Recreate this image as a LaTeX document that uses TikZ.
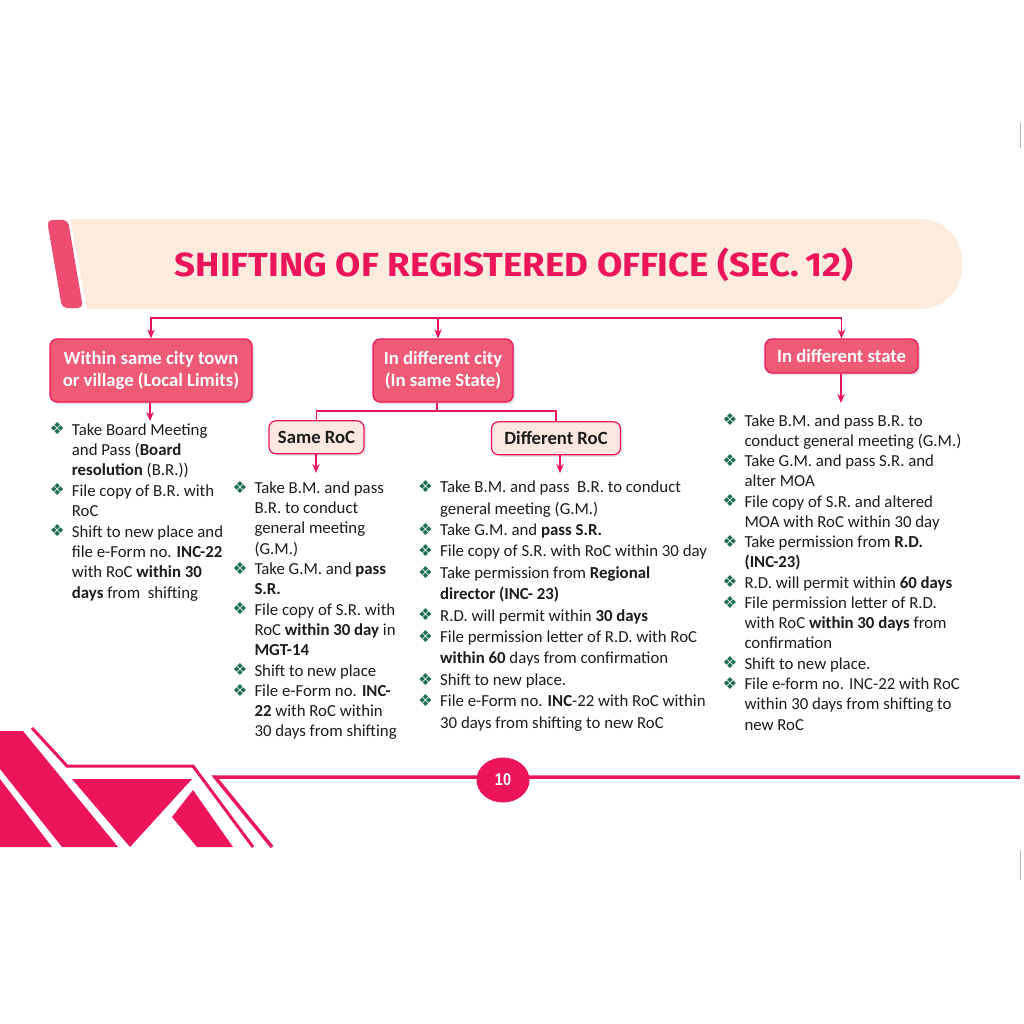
\documentclass[tikz,border=0pt]{standalone}
\usepackage{fontspec}
\usepackage{graphicx}
\setmainfont{Carlito}
\newfontfamily\bulfont{DejaVu Sans}
\newfontfamily\titlefont{Fira Sans}
\newfontfamily\numfont{Liberation Sans}
\usetikzlibrary{arrows.meta,shadows,shapes.geometric}
\definecolor{crim}{HTML}{EC1559}
\definecolor{boxpink}{HTML}{EF5A76}
\definecolor{barpink}{HTML}{EE4C70}
\definecolor{peach}{HTML}{FDEBDE}
\definecolor{lightbox}{HTML}{FCE8E1}
\definecolor{bul}{HTML}{1F6E52}
\definecolor{txt}{HTML}{1C1C1C}
\newcommand{\bl}{\makebox[21pt][l]{\hspace*{-1pt}\raisebox{0.3pt}{\bulfont\fontsize{16.5}{10}\selectfont\color{bul}❖}}}
\tikzset{
  bigbox/.style={draw=crim, line width=1.2pt, fill=boxpink, rounded corners=7pt, text=white,
    font=\bfseries\fontsize{18.7}{22}\selectfont, align=center, inner sep=0pt,
    drop shadow={opacity=0.25, shadow xshift=2pt, shadow yshift=-2pt}},
  subbox/.style={draw=crim, line width=1.2pt, fill=lightbox, rounded corners=7pt, text=txt,
    font=\bfseries\fontsize{18.7}{22}\selectfont, align=center, inner sep=0pt,
    drop shadow={opacity=0.2, shadow xshift=2pt, shadow yshift=-2pt}},
  conn/.style={draw=crim, line width=1.4pt},
  arr/.style={conn, -{Stealth[length=9pt,width=7.5pt]}},
  lst/.style={anchor=base west, inner sep=0pt, text=txt},
}
\begin{document}
\begin{tikzpicture}[x=1pt,y=-1pt]
\useasboundingbox (0,0) rectangle (1024,1024);
\fill[white] (0,0) rectangle (1024,1024);
% banner
\fill[peach] (70,219) [rounded corners=42pt] -- (962,219) -- (962,309) [sharp corners] -- (87,309) -- cycle;
\fill[barpink, rounded corners=5pt] (47,220) -- (68,220) -- (83,308) -- (62,308) -- cycle;
\node (title) [anchor=base, text=crim, inner sep=0pt] at (514,276.7)
  {\resizebox{678pt}{28.7pt}{\titlefont\bfseries SHIFTING OF REGISTERED OFFICE (SEC.\,12)}};
% level 1 boxes
\node (b1) [bigbox, minimum width=202pt, minimum height=63pt] at (151,370.5) {Within same city town\\or village (Local Limits)};
\node (b2) [bigbox, minimum width=140pt, minimum height=63pt] at (443,370.5) {In different city\\(In same State)};
\node (b3) [bigbox, minimum width=153pt, minimum height=34pt] at (841.5,356) {In different state};
% level 2 boxes
\node (sr) [subbox, minimum width=95pt, minimum height=33pt] at (316.5,437.3) {Same RoC};
\node (dr) [subbox, minimum width=129pt, minimum height=33pt] at (556,438.3) {Different RoC};
% connectors
\coordinate (j) at (438,318);
\draw[arr] (j) -| (b1.north);
\draw[arr] (j) -| (b3.north);
\draw[arr] (j) -- (j |- b2.north);
\coordinate (j2) at (437,411);
\draw[conn] (j2 |- b2.south) -- (j2);
\draw[conn] (j2) -| (sr.north);
\draw[conn] (j2) -| (dr.north);
\coordinate (e1) at (150,421);
\coordinate (e2) at (316,473);
\coordinate (e3) at (560,473);
\coordinate (e4) at (841,403);
\draw[arr] (b1.south -| e1) -- (e1);
\draw[arr] (sr.south -| e2) -- (e2);
\draw[arr] (dr.south -| e3) -- (e3);
\draw[arr] (b3.south -| e4) -- (e4);
% lists
\node (l1) [lst, font=\fontsize{16.8}{20.4}\selectfont] at (50.7,435) {\begin{tabular}[t]{@{}l@{}l@{}}
\bl & Take Board Meeting\\
 & and Pass (\textbf{Board}\\
 & \textbf{resolution} (B.R.))\\
\bl & File copy of B.R. with\\
 & RoC\\
\bl & Shift to new place and\\
 & file e-Form no. \textbf{INC-22}\\
 & with RoC \textbf{within 30}\\
 & \textbf{days} from\ \ shifting
\end{tabular}};
\node (l2) [lst, font=\fontsize{16.8}{20.3}\selectfont] at (233.3,493.3) {\begin{tabular}[t]{@{}l@{}l@{}}
\bl & Take B.M. and pass\\
 & B.R. to conduct\\
 & general meeting\\
 & (G.M.)\\
\bl & Take G.M. and \textbf{pass}\\
 & \textbf{S.R.}\\
\bl & File copy of S.R. with\\
 & RoC \textbf{within 30 day} in\\
 & \textbf{MGT-14}\\
\bl & Shift to new place\\
\bl & File e-Form no. \textbf{INC-}\\
 & \textbf{22} with RoC within\\
 & 30 days from shifting
\end{tabular}};
\node (l3) [lst, font=\fontsize{16.8}{21.4}\selectfont] at (419,492.7) {\begin{tabular}[t]{@{}l@{}l@{}}
\bl & Take B.M. and pass\ \ B.R. to conduct\\
 & general meeting (G.M.)\\
\bl & Take G.M. and \textbf{pass S.R.}\\
\bl & File copy of S.R. with RoC within 30 day\\
\bl & Take permission from \textbf{Regional}\\
 & \textbf{director (INC- 23)}\\
\bl & R.D. will permit within \textbf{30 days}\\
\bl & File permission letter of R.D. with RoC\\
 & \textbf{within 60} days from confirmation\\
\bl & Shift to new place.\\
\bl & File e-Form no. \textbf{INC}-22 with RoC within\\
 & 30 days from shifting to new RoC
\end{tabular}};
\node (l4) [lst, font=\fontsize{16.8}{20.27}\selectfont] at (723.3,426) {\begin{tabular}[t]{@{}l@{}l@{}}
\bl & Take B.M. and pass B.R. to\\
 & conduct general meeting (G.M.)\\
\bl & Take G.M. and pass S.R. and\\
 & alter MOA\\
\bl & File copy of S.R. and altered\\
 & MOA with RoC within 30 day\\
\bl & Take permission from \textbf{R.D.}\\
 & \textbf{(INC-23)}\\
\bl & R.D. will permit within \textbf{60 days}\\
\bl & File permission letter of R.D.\\
 & with RoC \textbf{within 30 days} from\\
 & confirmation\\
\bl & Shift to new place.\\
\bl & File e-form no. INC-22 with RoC\\
 & within 30 days from shifting to\\
 & new RoC
\end{tabular}};
% bottom decoration
\fill[crim] (0,779) -- (0,847) -- (52,847) -- cycle;
\fill[crim] (0,731) -- (23,731) -- (118,847) -- (62,847) -- (0,769) -- cycle;
\fill[crim] (72,779) -- (192,779) -- (130,847) -- cycle;
\fill[crim] (193,790) -- (233,847) -- (197,847) -- (172,817) -- cycle;
\draw[crim, line width=3pt] (32,728) -- (67,766) -- (193,766) -- (253,847);
\draw[crim, line width=3.5pt] (272,847) -- (215,777) -- (1020,777);
\node (pg) [ellipse, fill=crim, minimum width=53pt, minimum height=45pt, inner sep=0pt, text=white,
  font=\numfont\bfseries\fontsize{17}{17}\selectfont] at (503,780) {\scalebox{0.85}[1]{10}};
% page edge marks
\draw[gray!60, line width=1pt] (1020,122) -- (1020,148);
\draw[gray!60, line width=1pt] (1020,850) -- (1020,880);
\end{tikzpicture}
\end{document}
